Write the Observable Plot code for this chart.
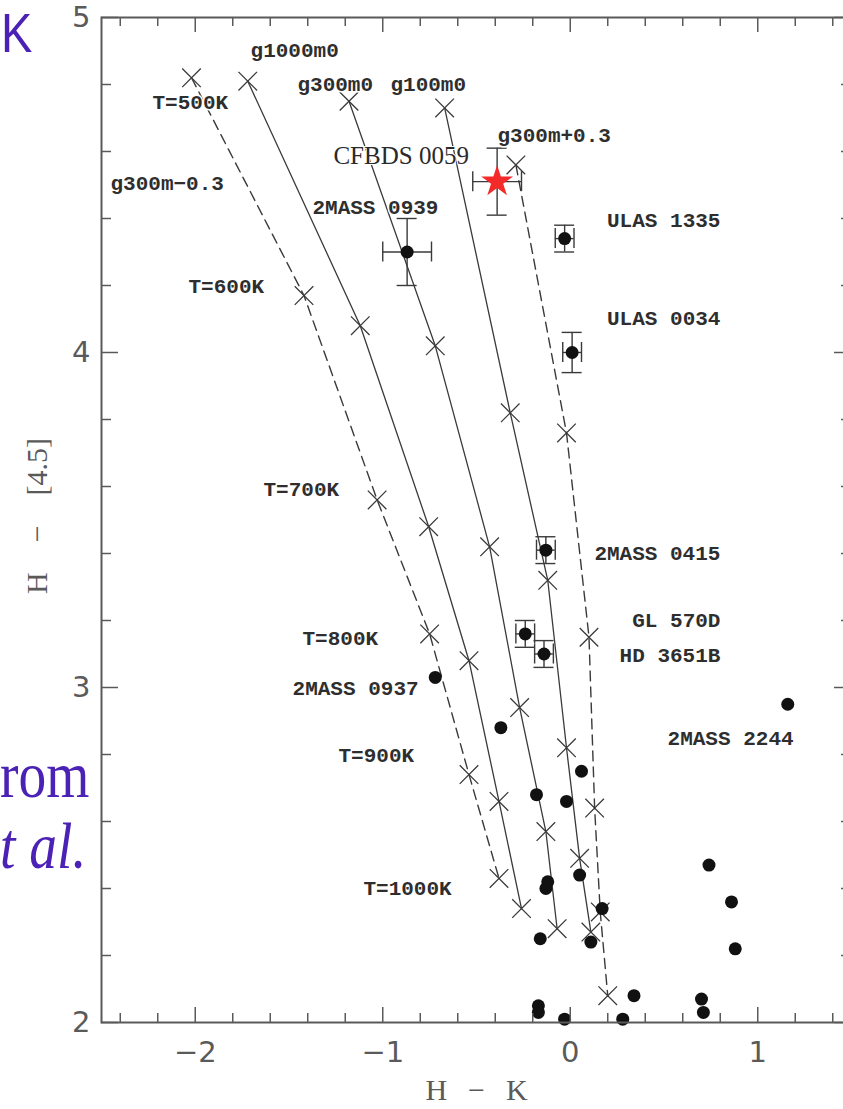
<!DOCTYPE html>
<html>
<head>
<meta charset="utf-8">
<script src="https://cdn.jsdelivr.net/npm/d3@7"></script>
<script src="https://cdn.jsdelivr.net/npm/@observablehq/plot@0.6"></script>
<style>
  html, body { margin: 0; padding: 0; background: #fff; overflow: hidden; width: 843px; height: 1109px; }
  #wrap { position: relative; width: 843px; height: 1109px; overflow: hidden; background: #fff; }
  #chart { position: absolute; left: 0; top: 0; width: 856px; }
  .slide { position: absolute; left: 0; color: #4b22b5; line-height: 0.75; white-space: nowrap; transform: scaleX(0.84); transform-origin: 0 0; }
</style>
</head>
<body>
<div id="wrap">
  <div id="chart"></div>
  <div class="slide" style="top:0px; left:1px; line-height:normal; font-family:'Liberation Sans'; font-size:56px;">K</div>
  <div class="slide" style="top:750px; font-family:'Liberation Serif'; font-size:66px;">rom</div>
  <div class="slide" style="top:821px; font-family:'Liberation Serif'; font-style:italic; font-size:66px;">t al.</div>
</div>
<script>
// ---------- data ----------
const teff = [500, 600, 700, 800, 900, 1000];
const modelNames = ["g300m-0.3", "g1000m0", "g300m0", "g100m0", "g300m+0.3"];
const modelDashed = [true, false, false, false, true];
const hk_g300m_m03 = [-2.02, -1.42, -1.03, -0.75, -0.54, -0.38];
const h45_g300m_m03 = [4.82, 4.17, 3.56, 3.16, 2.74, 2.43];
const hk_g1000m0 = [-1.72, -1.12, -0.755, -0.54, -0.38, -0.26];
const h45_g1000m0 = [4.81, 4.08, 3.48, 3.08, 2.66, 2.34];
const hk_g300m0 = [-1.18, -0.72, -0.43, -0.27, -0.13, -0.07];
const h45_g300m0 = [4.75, 4.02, 3.42, 2.94, 2.57, 2.28];
const hk_g100m0 = [-0.67, -0.32, -0.12, -0.02, 0.05, 0.11];
const h45_g100m0 = [4.73, 3.82, 3.32, 2.82, 2.49, 2.27];
const hk_g300m_p03 = [-0.29, -0.02, 0.10, 0.13, 0.16, 0.20];
const h45_g300m_p03 = [4.56, 3.76, 3.15, 2.64, 2.33, 2.08];

// objects with error bars
const objNames = ["CFBDS 0059", "2MASS 0939", "ULAS 1335", "ULAS 0034", "2MASS 0415", "GL 570D", "HD 3651B"];
const objHK = [-0.39, -0.87, -0.03, 0.01, -0.13, -0.24, -0.14];
const objH45 = [4.51, 4.30, 4.34, 4.00, 3.41, 3.16, 3.10];
const objHKerr = [0.13, 0.13, 0.05, 0.05, 0.05, 0.05, 0.05];
const objH45err = [0.10, 0.10, 0.04, 0.06, 0.04, 0.04, 0.04];

// field T dwarfs without error bars
const fieldHK = [-0.72, -0.37, 0.06, -0.18, -0.02, -0.12, -0.13, 0.05, 0.17, -0.16, 0.11, 0.34, -0.17, -0.17, -0.03, 0.28, 1.16, 0.74, 0.86, 0.88, 0.70, 0.71];
const fieldH45 = [3.03, 2.88, 2.75, 2.68, 2.66, 2.42, 2.40, 2.44, 2.34, 2.25, 2.24, 2.08, 2.05, 2.03, 2.01, 2.01, 2.95, 2.47, 2.36, 2.22, 2.07, 2.03];

// annotation labels
const labelText = ["g1000m0", "T=500K", "g300m0", "g100m0", "g300m+0.3", "g300m\u22120.3", "2MASS 0939", "ULAS 1335", "T=600K", "ULAS 0034", "T=700K", "2MASS 0415", "GL 570D", "HD 3651B", "T=800K", "2MASS 0937", "2MASS 2244", "T=900K", "T=1000K"];
const labelHK = [-1.705, -2.228, -1.455, -0.959, -0.388, -2.452, -1.375, 0.801, -2.036, 0.801, -1.636, 0.801, 0.801, 0.801, -1.428, -1.481, 0.519, -1.236, -1.103];
const labelH45 = [4.901, 4.746, 4.800, 4.800, 4.648, 4.504, 4.433, 4.394, 4.197, 4.101, 3.591, 3.400, 3.200, 3.096, 3.146, 2.997, 2.848, 2.797, 2.400];
const labelAnchor = ["start", "start", "start", "start", "start", "start", "start", "end", "start", "end", "start", "end", "end", "end", "start", "start", "start", "start", "start"];
const starLabel = "CFBDS 0059";
const starLabelHK = -1.263, starLabelH45 = 4.588;

const xMajor = [-2, -1, 0, 1];
const xMinor = [-2.4, -2.2, -1.8, -1.6, -1.4, -1.2, -0.8, -0.6, -0.4, -0.2, 0.2, 0.4, 0.6, 0.8, 1.2, 1.4];
const yMajor = [2, 3, 4, 5];
const yMinor = [2.2, 2.4, 2.6, 2.8, 3.2, 3.4, 3.6, 3.8, 4.2, 4.4, 4.6, 4.8];
const xLabel = "H\u2002\u2009\u2212\u2002\u2009K";
const yLabel = "H\u2003\u2212\u2003[4.5]";

// ---------- tables ----------
const modelHK = [hk_g300m_m03, hk_g1000m0, hk_g300m0, hk_g100m0, hk_g300m_p03];
const modelH45 = [h45_g300m_m03, h45_g1000m0, h45_g300m0, h45_g100m0, h45_g300m_p03];
const tracks = [];
modelNames.forEach((m, i) => teff.forEach((t, j) => tracks.push({model: m, dashed: modelDashed[i], teff: t, hk: modelHK[i][j], h45: modelH45[i][j]})));
const objs = objNames.map((n, i) => ({name: n, hk: objHK[i], h45: objH45[i], ex: objHKerr[i], ey: objH45err[i]}));
const field = fieldHK.map((v, i) => ({hk: v, h45: fieldH45[i]}));
const labels = labelText.map((t, i) => ({text: t, hk: labelHK[i], h45: labelH45[i], anchor: labelAnchor[i]}));

// ---------- layout ----------
const W = 856, H = 1109, mL = 101, mR = 5, mT = 17, mB = 87;
const xDom = [-2.5, 1.5], yDom = [2, 5];
const kx = (xDom[1] - xDom[0]) / (W - mL - mR);
const ky = (yDom[1] - yDom[0]) / (H - mT - mB);
const axisCol = "#5a5a5a";
const ink = "#3a3a3a";
const majLen = 15, minLen = 9, capLen = 10;
const intFmt = d3.format("d");

const xTicks = (vals, len) => [
  Plot.ruleX(vals, {x: d => d, y1: () => yDom[0], y2: () => yDom[0] + len * ky, stroke: axisCol, strokeWidth: 1.5}),
  Plot.ruleX(vals, {x: d => d, y1: () => yDom[1], y2: () => yDom[1] - len * ky, stroke: axisCol, strokeWidth: 1.5})
];
const yTicks = (vals, len) => [
  Plot.ruleY(vals, {y: d => d, x1: () => xDom[0], x2: () => xDom[0] + len * kx, stroke: axisCol, strokeWidth: 1.5}),
  Plot.ruleY(vals, {y: d => d, x1: () => xDom[1], x2: () => xDom[1] - len * kx, stroke: axisCol, strokeWidth: 1.5})
];

const labelFont = {fontFamily: "Liberation Mono", fontWeight: "bold", fontSize: 21, fill: "#2e2e2e", stroke: "white", strokeWidth: 3};

const chart = Plot.plot({
  width: W, height: H,
  marginLeft: mL, marginRight: mR, marginTop: mT, marginBottom: mB,
  x: {domain: xDom},
  y: {domain: yDom},
  style: {background: "#fff", maxWidth: "none", overflow: "visible"},
  marks: [
    // model tracks
    Plot.line(tracks.filter(d => !d.dashed), {x: "hk", y: "h45", z: "model", stroke: ink, strokeWidth: 1.3}),
    Plot.line(tracks.filter(d => d.dashed), {x: "hk", y: "h45", z: "model", stroke: ink, strokeWidth: 1.4, strokeDasharray: "10,6"}),
    Plot.dot(tracks, {x: "hk", y: "h45", symbol: "times", r: 8.5, stroke: ink, strokeWidth: 1.3}),
    // error bars
    Plot.ruleY(objs, {y: "h45", x1: d => d.hk - d.ex, x2: d => d.hk + d.ex, stroke: ink, strokeWidth: 1.4}),
    Plot.ruleX(objs, {x: "hk", y1: d => d.h45 - d.ey, y2: d => d.h45 + d.ey, stroke: ink, strokeWidth: 1.4}),
    Plot.ruleY(objs, {y: d => d.h45 - d.ey, x1: d => d.hk - capLen * kx, x2: d => d.hk + capLen * kx, stroke: ink, strokeWidth: 1.4}),
    Plot.ruleY(objs, {y: d => d.h45 + d.ey, x1: d => d.hk - capLen * kx, x2: d => d.hk + capLen * kx, stroke: ink, strokeWidth: 1.4}),
    Plot.ruleX(objs, {x: d => d.hk - d.ex, y1: d => d.h45 - capLen * ky, y2: d => d.h45 + capLen * ky, stroke: ink, strokeWidth: 1.4}),
    Plot.ruleX(objs, {x: d => d.hk + d.ex, y1: d => d.h45 - capLen * ky, y2: d => d.h45 + capLen * ky, stroke: ink, strokeWidth: 1.4}),
    // points
    Plot.dot(field, {x: "hk", y: "h45", r: 6.5, fill: "#111"}),
    Plot.dot(objs.filter(d => d.name !== "CFBDS 0059"), {x: "hk", y: "h45", r: 6.5, fill: "#111"}),
    Plot.dot(objs.filter(d => d.name === "CFBDS 0059"), {x: "hk", y: "h45", symbol: "star", r: 10, fill: "#f42a2a"}),
    // labels
    Plot.text(labels.filter(d => d.anchor === "start"), {x: "hk", y: "h45", text: "text", textAnchor: "start", ...labelFont}),
    Plot.text(labels.filter(d => d.anchor === "end"), {x: "hk", y: "h45", text: "text", textAnchor: "end", ...labelFont}),
    Plot.text([starLabel], {x: () => starLabelHK, y: () => starLabelH45, text: d => d, textAnchor: "start", fontFamily: "Liberation Serif", fontSize: 25, fill: "#2a2a2a", stroke: "white", strokeWidth: 2}),
    // frame, ticks, axes
    Plot.frame({stroke: axisCol, strokeWidth: 2}),
    ...xTicks(xMajor, majLen), ...xTicks(xMinor, minLen),
    ...yTicks(yMajor, majLen + 2), ...yTicks(yMinor, minLen + 1),
    Plot.axisX({ticks: xMajor, tickFormat: intFmt, tickSize: 0, tickPadding: 19, fontSize: 29, fontFamily: "DejaVu Sans", color: axisCol, label: null}),
    Plot.axisY({ticks: yMajor, tickFormat: intFmt, tickSize: 0, tickPadding: 11, fontSize: 29, fontFamily: "DejaVu Sans", color: axisCol, label: null}),
    Plot.text([xLabel], {frameAnchor: "bottom", dy: 77, text: d => d, fontFamily: "Liberation Serif", fontSize: 30, fill: axisCol}),
    Plot.text([yLabel], {frameAnchor: "left", textAnchor: "middle", rotate: -90, dx: -64, dy: -4, text: d => d, fontFamily: "Liberation Serif", fontSize: 30, fill: axisCol})
  ]
});
document.getElementById("chart").appendChild(chart);
</script>
</body>
</html>
